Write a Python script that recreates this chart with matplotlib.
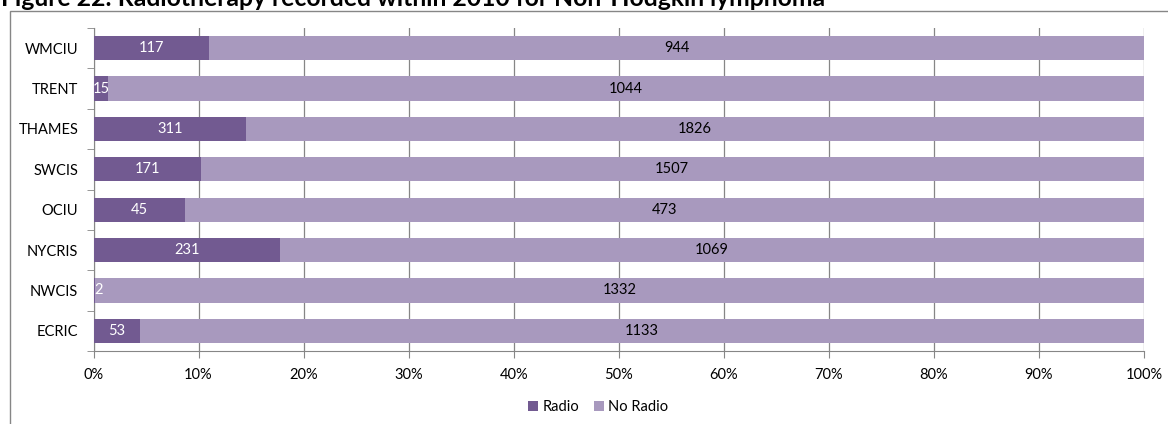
import matplotlib.pyplot as plt
from matplotlib.patches import Rectangle
from matplotlib.ticker import PercentFormatter, FixedLocator
import numpy as np

regions = ["WMCIU", "TRENT", "THAMES", "SWCIS", "OCIU", "NYCRIS", "NWCIS", "ECRIC"]
radio = [117, 15, 311, 171, 45, 231, 2, 53]
no_radio = [944, 1044, 1826, 1507, 473, 1069, 1332, 1133]

DARK = "#725a91"
LIGHT = "#a899be"
GREY = "#868686"

plt.rcParams['font.family'] = ['Lato', 'DejaVu Sans']

radio = np.array(radio, dtype=float)
no_radio = np.array(no_radio, dtype=float)
total = radio + no_radio
p_radio = radio / total * 100
p_no = no_radio / total * 100

W, H = 1168, 424
fig = plt.figure(figsize=(W / 100, H / 100), dpi=100)
ax = fig.add_axes([93.5 / W, 1 - 351 / H, (1144 - 93.5) / W, (351 - 28) / H])

y = np.arange(len(regions))[::-1]
h = 0.6
ax.barh(y, p_radio, height=h, color=DARK, label="Radio", zorder=3)
ax.barh(y, p_no, left=p_radio, height=h, color=LIGHT, label="No Radio", zorder=3)

for yi, pr, pn, r, n in zip(y, p_radio, p_no, radio, no_radio):
    ax.text(max(pr / 2, 0.5), yi, f"{int(r)}", ha="center", va="center",
            color="white", fontsize=10.5, zorder=4)
    ax.text(pr + pn / 2, yi, f"{int(n)}", ha="center", va="center",
            color="black", fontsize=10.5, zorder=4)

ax.set_xlim(0, 100)
ax.set_ylim(-0.5, len(regions) - 0.5)
ax.set_xticks(np.arange(0, 101, 10))
ax.xaxis.set_major_formatter(PercentFormatter(decimals=0))
ax.set_yticks(y)
ax.set_yticklabels(regions)
ax.yaxis.set_minor_locator(FixedLocator(np.arange(-0.5, len(regions), 1)))
ax.tick_params(axis="y", which="major", length=0, pad=11, labelsize=10.5)
ax.tick_params(axis="y", which="minor", length=5, color=GREY)
ax.tick_params(axis="x", length=5, color=GREY, labelsize=10.5, pad=7)

ax.grid(axis="x", color=GREY, linewidth=0.9, zorder=0)
for s in ["top", "right"]:
    ax.spines[s].set_visible(False)
for s in ["left", "bottom"]:
    ax.spines[s].set_color(GREY)

fig.legend(loc="center", bbox_to_anchor=(598 / W, 1 - 407 / H), ncol=2,
           frameon=False, fontsize=10.5, handlelength=0.7, handleheight=0.7,
           handletextpad=0.3, columnspacing=1.0)

# outer chart frame (right and bottom edges run off the picture)
fig.patches.append(Rectangle((9.5 / W, -0.01), 1.1, 1 - 11 / H + 0.01,
                             transform=fig.transFigure, fill=False,
                             edgecolor=GREY, linewidth=1))

fig.text(1 / W, 1 - 6 / H, "Figure 22: Radiotherapy recorded within 2010 for Non-Hodgkin lymphoma",
         fontsize=17.8, fontweight="bold", ha="left", va="baseline")

fig.savefig("out.png", dpi=100)
